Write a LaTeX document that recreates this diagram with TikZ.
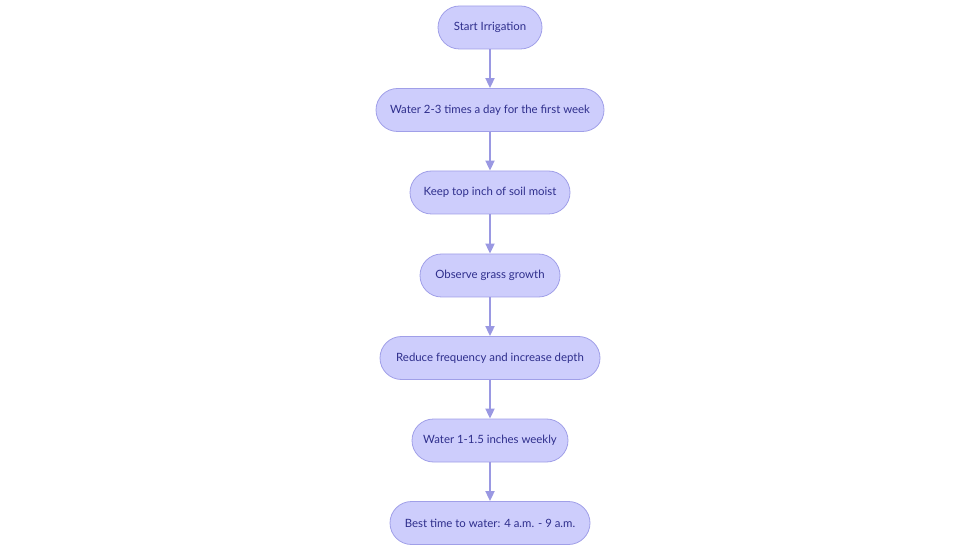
\documentclass[tikz,border=0pt]{standalone}
\usepackage{fontspec}
\setmainfont{Lato}
\usetikzlibrary{arrows.meta}
\definecolor{boxfill}{HTML}{CDCDFC}
\definecolor{boxline}{HTML}{A09FE8}
\definecolor{boxtext}{HTML}{2E2E8C}
\definecolor{arrowc}{HTML}{9A98E2}
\tikzset{
  stepbox/.style={draw=boxline, line width=0.8pt, fill=boxfill, rounded corners=21.5pt,
    minimum height=43pt, inner xsep=0pt, text=boxtext, font=\fontsize{11.4pt}{13pt}\selectfont},
  flow/.style={draw=arrowc, line width=1.8pt, -{Triangle[length=10pt,width=9pt]}}
}
\begin{document}
\begin{tikzpicture}[x=1pt,y=-1pt]
\useasboundingbox (0,0) rectangle (980,553);
\node[stepbox, minimum width=104pt] (n1) at (490,27.5) {Start Irrigation};
\node[stepbox, minimum width=228pt] (n2) at (490,110) {Water 2-3 times a day for the first week};
\node[stepbox, minimum width=160pt] (n3) at (490,192.5) {Keep top inch of soil moist};
\node[stepbox, minimum width=140pt] (n4) at (490,275.5) {Observe grass growth};
\node[stepbox, minimum width=220pt] (n5) at (490,358) {Reduce frequency and increase depth};
\node[stepbox, minimum width=156pt] (n6) at (490,440.5) {Water 1-1.5 inches weekly};
\node[stepbox, minimum width=200pt] (n7) at (490,523) {Best time to water: 4 a.m. - 9 a.m.};
\draw[flow] (n1) -- (n2);
\draw[flow] (n2) -- (n3);
\draw[flow] (n3) -- (n4);
\draw[flow] (n4) -- (n5);
\draw[flow] (n5) -- (n6);
\draw[flow] (n6) -- (n7);
\end{tikzpicture}
\end{document}
